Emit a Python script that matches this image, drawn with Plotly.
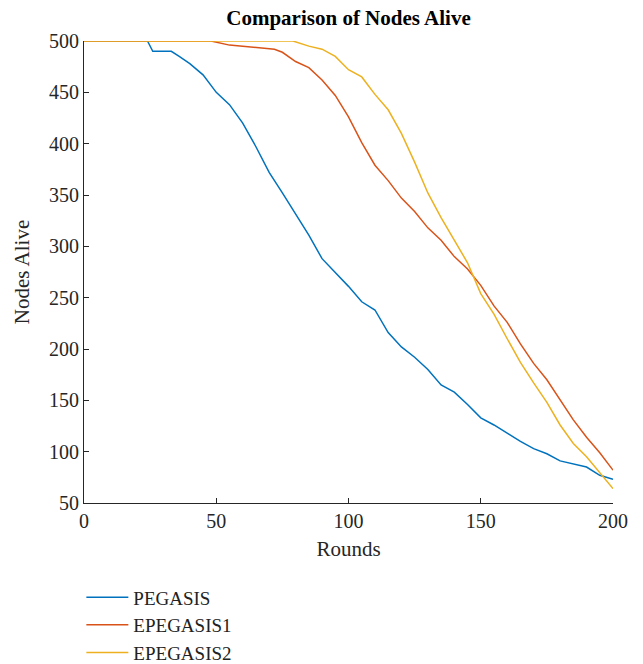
import plotly.graph_objects as go

rounds_pegasis = [0, 24, 26, 33, 36, 40, 45, 50, 55, 60, 65, 70, 75, 80, 85, 90, 95, 100, 105, 110,
                  115, 120, 125, 130, 135, 140, 145, 150, 155, 160, 165, 170, 175, 180, 185, 190, 195, 200]
alive_pegasis = [500, 500, 490, 490, 485, 478, 467, 450, 438, 420, 397, 372, 352, 331, 311, 288, 275, 261, 246, 238,
                 216, 202, 192, 180, 165, 158, 146, 133, 126, 118, 110, 103, 98, 91, 88, 85, 77, 73]

rounds_ep1 = [0, 48, 55, 64, 72, 75, 80, 85, 90, 95, 100, 105, 110, 115, 120, 125, 130, 135, 140, 145,
              150, 155, 160, 165, 170, 175, 180, 185, 190, 195, 200]
alive_ep1 = [500, 500, 496, 494, 492, 489, 480, 474, 462, 447, 426, 401, 379, 364, 347, 334, 318, 306, 290, 278,
             262, 242, 226, 205, 186, 170, 150, 131, 114, 99, 82]

rounds_ep2 = [0, 79, 85, 90, 95, 100, 105, 110, 115, 120, 125, 130, 135, 140, 145, 150, 155, 160, 165, 170,
              175, 180, 185, 190, 195, 200]
alive_ep2 = [500, 500, 495, 492, 485, 472, 465, 448, 433, 410, 382, 352, 328, 306, 284, 254, 234, 210, 187, 167,
             148, 126, 108, 95, 79, 64]

names = ["PEGASIS", "EPEGASIS1", "EPEGASIS2"]
colors = ["#0072BD", "#D95319", "#EDB120"]
series = [(rounds_pegasis, alive_pegasis), (rounds_ep1, alive_ep1), (rounds_ep2, alive_ep2)]

font_family = "Liberation Serif, Times New Roman, serif"
axis_color = "#262626"

fig = go.Figure()
for (xs, ys), name, color in zip(series, names, colors):
    fig.add_trace(go.Scatter(x=xs, y=ys, mode="lines", name=name, legendgroup=name,
                             line=dict(color=color, width=1.5)))

fig.update_layout(
    width=643, height=664,
    margin=dict(l=84, r=30, t=41, b=161, autoexpand=False),
    paper_bgcolor="white", plot_bgcolor="white",
    font=dict(family=font_family, size=20, color=axis_color),
    title=dict(text="<b>Comparison of Nodes Alive</b>", x=0.542, xanchor="center",
               y=0.974, yanchor="middle", font=dict(size=21, color="#000000")),
    showlegend=True,
    legend=dict(x=-0.005, xanchor="left", y=-0.163, yanchor="top",
                font=dict(size=19, color="#222222"), tracegroupgap=0, itemwidth=42,
                borderwidth=0, bgcolor="rgba(0,0,0,0)"),
    xaxis=dict(range=[0, 200], tickvals=[0, 50, 100, 150, 200], ticks="inside", ticklen=5,
               tickcolor=axis_color, showline=True, linecolor=axis_color, linewidth=1,
               showgrid=False, zeroline=False,
               title=dict(text="Rounds", standoff=10,
                          font=dict(family=font_family, size=21, color=axis_color)),
               tickfont=dict(size=20)),
    yaxis=dict(range=[50, 500], tickvals=list(range(50, 501, 50)), ticks="inside", ticklen=5,
               tickcolor=axis_color, showline=True, linecolor=axis_color, linewidth=1,
               showgrid=False, zeroline=False,
               title=dict(text="Nodes Alive", standoff=13,
                          font=dict(family=font_family, size=21, color=axis_color)),
               tickfont=dict(size=20)),
)

fig.write_html("out.html")
